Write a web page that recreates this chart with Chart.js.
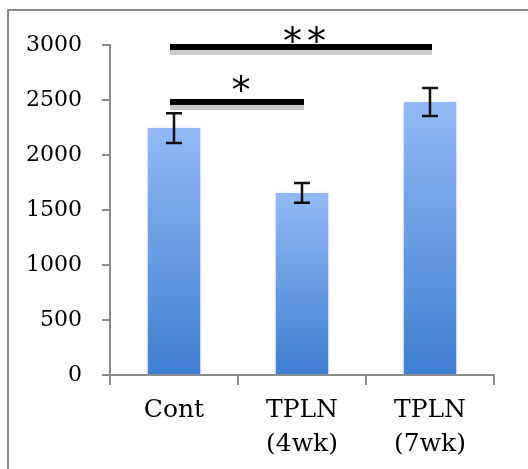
<!DOCTYPE html>
<html>
<head>
<meta charset="utf-8">
<script src="https://cdn.jsdelivr.net/npm/chart.js@4.4.1/dist/chart.umd.min.js"></script>
<style>
html,body{margin:0;padding:0;background:#fff;}
#wrap{position:absolute;left:0;top:0;width:528px;height:469px;}
#frame{position:absolute;left:7px;top:9px;width:540px;height:480px;border-left:2px solid #8a8a8a;border-top:2px solid #8a8a8a;}
canvas{position:absolute;left:0;top:0;}
</style>
</head>
<body>
<div id="wrap"><div id="frame"></div><canvas id="c" width="528" height="469"></canvas></div>
<script>
const categories = [["Cont"], ["TPLN", "(4wk)"], ["TPLN", "(7wk)"]];
const values = [2245, 1655, 2482];
const errors = [135, 90, 127];
const yTicks = [0, 500, 1000, 1500, 2000, 2500, 3000];
// significance brackets
const sigFrom = [0, 0];
const sigTo = [1, 2];
const sigLevel = [2482, 2982];
const sigLabel = ["*", "**"];

const FONT = "'DejaVu Serif', 'Liberation Serif', serif";

function barGradient(ctx) {
  const chart = ctx.chart;
  const ys = chart.scales.y;
  if (!ys || ctx.dataIndex === undefined) return '#6a9be6';
  const v = values[ctx.dataIndex];
  const top = ys.getPixelForValue(v);
  const bot = ys.getPixelForValue(0);
  if (!isFinite(top) || !isFinite(bot)) return '#6a9be6';
  const g = chart.ctx.createLinearGradient(0, top, 0, bot);
  g.addColorStop(0, '#92b9f5');
  g.addColorStop(1, '#3e7ed1');
  return g;
}

const overlay = {
  id: 'overlay',
  beforeDatasetDraw(chart) {
    const c = chart.ctx;
    c.save();
    c.shadowColor = 'rgba(150,185,240,0.30)';
    c.shadowBlur = 5;
  },
  afterDatasetDraw(chart) {
    chart.ctx.restore();
  },
  afterDraw(chart) {
    const c = chart.ctx;
    const xs = chart.scales.x, ys = chart.scales.y;
    c.save();
    // error bars
    c.strokeStyle = '#111';
    c.lineWidth = 2.5;
    values.forEach((v, i) => {
      const x = xs.getPixelForValue(i);
      const yt = ys.getPixelForValue(v + errors[i]);
      const yb = ys.getPixelForValue(v - errors[i]);
      c.beginPath();
      c.moveTo(x, yt); c.lineTo(x, yb);
      c.moveTo(x - 8, yt); c.lineTo(x + 8, yt);
      c.moveTo(x - 8, yb); c.lineTo(x + 8, yb);
      c.stroke();
    });
    // significance lines
    sigFrom.forEach((f, k) => {
      const x1 = xs.getPixelForValue(f) - 4;
      const x2 = xs.getPixelForValue(sigTo[k]) + 2;
      const y = ys.getPixelForValue(sigLevel[k]);
      c.fillStyle = '#c9c9c9';
      c.fillRect(x1, y + 3, x2 - x1, 5);
      c.fillStyle = '#000';
      c.fillRect(x1, y - 3, x2 - x1, 6);
      c.font = "38px 'DejaVu Sans', sans-serif";
      c.letterSpacing = '5px';
      c.textAlign = 'center';
      c.textBaseline = 'alphabetic';
      const single = sigLabel[k].length === 1;
      const cx = (x1 + x2) / 2 + (single ? 6.5 : 3.5) + (single ? 0 : 2.5);
      c.fillText(sigLabel[k], cx, y + (single ? 1 : 7));
    });
    c.restore();
  }
};

new Chart(document.getElementById('c'), {
  type: 'bar',
  data: {
    labels: categories,
    datasets: [{
      data: values,
      backgroundColor: barGradient,
      borderWidth: 0,
      categoryPercentage: 1.0,
      barPercentage: 0.41
    }]
  },
  options: {
    responsive: false,
    animation: false,
    devicePixelRatio: 1,
    layout: { padding: { left: 20, top: 45, right: 34, bottom: 0 } },
    plugins: { legend: { display: false }, tooltip: { enabled: false } },
    scales: {
      x: {
        offset: true,
        afterFit(scale) { scale.height = 94; },
        grid: { offset: true, drawOnChartArea: false, drawTicks: true, tickLength: 10, color: '#8a8a8a', lineWidth: 2 },
        border: { color: '#8a8a8a', width: 2 },
        ticks: { color: '#000', font: { family: FONT, size: 25, lineHeight: 1.34 }, padding: 9, maxRotation: 0 }
      },
      y: {
        min: 0, max: 3000,
        afterBuildTicks(scale) { scale.ticks = yTicks.map(v => ({ value: v })); },
        afterFit(scale) { scale.width = 90; },
        grid: { drawOnChartArea: false, drawTicks: true, tickLength: 8, color: '#8a8a8a', lineWidth: 2 },
        border: { color: '#8a8a8a', width: 2 },
        ticks: { color: '#000', font: { family: FONT, size: 22 }, padding: 20, callback: v => String(v) }
      }
    }
  },
  plugins: [overlay]
});
</script>
</body>
</html>
